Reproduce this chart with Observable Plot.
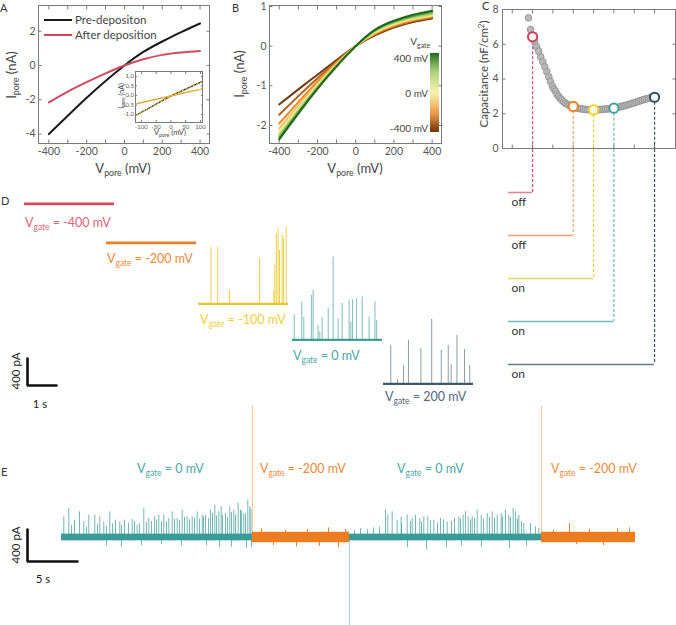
<!DOCTYPE html>
<html><head><meta charset="utf-8">
<script src="https://cdn.jsdelivr.net/npm/d3@7"></script>
<script src="https://cdn.jsdelivr.net/npm/@observablehq/plot@0.6"></script>
<style>
body{margin:0;background:#fff;}
#fig{position:relative;width:676px;height:625px;overflow:hidden;font-family:Lato,"Open Sans",sans-serif;background:#fff;}
.pl{position:absolute;}
.lb{position:absolute;white-space:nowrap;line-height:1;}
.lb sub{font-size:0.68em;vertical-align:-0.38em;line-height:0;}
.lb sup{font-size:0.68em;vertical-align:0.5em;line-height:0;}
</style></head><body><div id="fig"></div>
<script>
// ---------------- DATA ----------------
// Panel A
const vporeA = [-400, -300, -200, -100, 0, 100, 200, 300, 400];
const iPre   = [-4.0, -2.93, -1.88, -0.9, 0, 0.79, 1.4, 1.95, 2.45];
const iAfter = [-2.15, -1.52, -0.97, -0.46, 0, 0.36, 0.62, 0.76, 0.85];
const aSeries = ["Pre-depositon", "After deposition"];
const aXTicks = [-400, -200, 0, 200, 400];
const aXMinor = [-400, -300, -200, -100, 0, 100, 200, 300, 400];
const aYTicks = [-4, -2, 0, 2];
// Panel A inset
const insetV = [-118, 0, 105];
const insetPre = [-1.04, -0.02, 0.73];
const insetAfter = [-0.44, -0.02, 0.34];
const insetXTicks = [-100, -50, 0, 50, 100];
const insetYTicks = [-1, -0.5, 0, 0.5, 1];
// Panel B
const vporeB = [-400, -300, -200, -100, 0, 100, 200, 300, 400];
const gatesB = [-400, -300, -200, -100, 0, 100, 200, 300, 400];
const iB_m400 = [-1.47, -1.09, -0.72, -0.35, 0, 0.27, 0.47, 0.61, 0.70];
const iB_m300 = [-1.73, -1.26, -0.81, -0.39, 0, 0.29, 0.49, 0.63, 0.72];
const iB_m200 = [-1.95, -1.41, -0.89, -0.42, 0, 0.31, 0.51, 0.65, 0.74];
const iB_m100 = [-2.08, -1.50, -0.95, -0.45, 0, 0.33, 0.54, 0.67, 0.76];
const iB_0    = [-2.16, -1.56, -0.99, -0.47, 0, 0.35, 0.56, 0.69, 0.78];
const iB_100  = [-2.22, -1.61, -1.02, -0.48, 0, 0.37, 0.58, 0.71, 0.80];
const iB_200  = [-2.27, -1.64, -1.04, -0.49, 0, 0.38, 0.60, 0.74, 0.83];
const iB_300  = [-2.31, -1.67, -1.06, -0.50, 0, 0.40, 0.62, 0.76, 0.86];
const iB_400  = [-2.35, -1.70, -1.08, -0.51, 0, 0.41, 0.64, 0.79, 0.89];
const iBcurves = [iB_m400, iB_m300, iB_m200, iB_m100, iB_0, iB_100, iB_200, iB_300, iB_400];
const bYTicks = [-2, -1, 0, 1];
const cbLabels = [400, 0, -400];
// Panel C
const capV = [-420,-410,-400,-390,-380,-370,-360,-350,-340,-330,-320,-312,-303,-295,-287,-280,-272,-264,-256,-247,-238,-228,-219,-210,-200,-190,-180,-170,-160,-150,-140,-130,-120,-110,-100,-90,-80,-70,-60,-50,-40,-30,-20,-10,0,10,20,30,40,50,60,70,80,90,100,110,120,130,140,150,160,170,180,190,200];
const capC = [7.52,6.85,6.43,6.15,5.85,5.6,5.28,4.99,4.7,4.42,4.12,3.85,3.6,3.42,3.3,3.12,3.0,2.88,2.78,2.68,2.6,2.54,2.48,2.44,2.42,2.37,2.33,2.3,2.28,2.26,2.25,2.24,2.23,2.22,2.22,2.22,2.23,2.24,2.25,2.26,2.27,2.28,2.29,2.3,2.32,2.34,2.37,2.4,2.43,2.46,2.49,2.52,2.56,2.6,2.63,2.67,2.71,2.75,2.79,2.83,2.86,2.89,2.92,2.94,2.95];
const ringV = [-400, -200, -100, 0, 200];
const ringC = [6.43, 2.42, 2.22, 2.32, 2.95];
const ringState = ["off", "off", "on", "on", "on"];
const cYTicks = [0, 2, 4, 6, 8];
const cXTicks = [-500, -400, -300, -200, -100, 0, 100, 200];
// Panel D (time s, current pA)
const dGates = [-400, -200, -100, 0, 200];
const dDuration = 3.1;
const dSpikesM100 = [[0.43,845],[0.66,845],[1.07,207],[2.10,677],[2.59,200],[2.63,578],[2.68,1047],[2.74,1121],[2.79,800],[2.88,1022],[2.93,973],[3.02,1145]];
const dSpikes0 = [[0.06,370],[0.32,567],[0.39,345],[0.65,667],[0.71,740],[0.88,222],[0.94,123],[1.02,340],[1.23,470],[1.40,1234],[1.57,321],[1.71,544],[1.95,593],[2.01,267],[2.07,603],[2.21,618],[2.40,642],[2.64,345],[2.84,567],[2.90,296]];
const dSpikes200 = [[0.25,578],[0.48,70],[0.69,281],[0.86,652],[1.29,529],[1.66,963],[1.99,504],[2.23,578],[2.33,296],[2.53,726],[2.79,518],[2.97,281]];
const dNoise = [20, 20, 16, 16, 16];
const dScaleBar = {time: 1, current: 400};
// Panel E
const eSegStart = [0, 19.1, 28.8, 48.0];
const eSegEnd = [19.1, 28.8, 48.0, 57.4];
const eSegGate = [0, -200, 0, -200];
const eNoise = {"0": 42, "-200": 65};
const eTransT = [19.1, 28.8, 48.0];
const eTransAmp = [1640, -1100, 1640];
const eTransGate = [-200, 0, -200];
const eSpikesOn = [[0.23,258],[0.73,363],[1.0,150],[1.3,217],[1.8,321],[2.23,196],[2.5,130],[2.73,279],[3.33,279],[3.6,160],[3.83,258],[4.23,196],[4.5,140],[4.83,321],[5.1,170],[5.4,217],[5.83,196],[6.0,150],[6.3,217],[6.7,180],[7.07,225],[7.3,200],[7.57,154],[7.8,170],[8.23,363],[8.5,190],[8.73,238],[9.0,200],[9.3,258],[9.5,220],[9.73,279],[10.0,200],[10.23,279],[10.5,190],[10.73,238],[11.07,321],[11.3,230],[11.57,238],[11.8,210],[12.07,342],[12.3,250],[12.57,258],[12.8,220],[13.07,258],[13.3,240],[13.57,321],[13.8,230],[14.07,279],[14.2,260],[14.4,279],[14.7,240],[14.9,342],[15.1,300],[15.33,404],[15.5,270],[15.73,321],[15.97,384],[16.1,280],[16.4,300],[16.6,250],[16.83,384],[17.0,310],[17.23,342],[17.4,280],[17.67,425],[17.9,342],[18.0,330],[18.23,300],[18.4,290],[18.63,467],[18.83,384],[18.95,350],
  [4.5,-110],[6.0,-120],[8.0,-100],[10.0,-90],[12.0,-110],[14.5,-100],[15.8,-130],[17.0,-120],[18.5,-140],[19.0,-130],
  [29.3,90],[29.9,110],[30.6,100],[31.2,120],[31.8,130],[32.4,342],[32.63,279],[33.07,321],[33.57,217],[33.97,258],[34.0,180],[34.57,279],[34.9,200],[35.07,238],[35.4,279],[35.83,238],[36.0,190],[36.23,258],[36.63,258],[36.9,210],[37.23,217],[37.6,180],[37.9,238],[38.2,220],[38.57,196],[39.0,200],[39.3,238],[39.73,258],[39.9,230],[40.17,279],[40.4,321],[40.67,258],[40.9,220],[41.07,258],[41.3,240],[41.57,342],[41.97,279],[42.2,230],[42.57,300],[42.8,250],[43.07,321],[43.3,240],[43.57,279],[43.97,300],[44.1,260],[44.4,342],[44.73,279],[44.9,250],[45.17,363],[45.4,321],[45.6,230],[45.73,279],[46.0,200],[46.23,175],[46.9,175],[47.4,133],[47.73,113],
  [34.6,-130],[36.5,-150],[38.5,-130],[40.0,-110],[42.0,-120],[44.8,-140],[46.5,-110]];
const eSpikesOff = [[20.0,110],[21.2,-100],[22.4,90],[23.5,-120],[24.6,100],[25.8,-110],[26.7,120],[27.7,-130],[28.4,100],[49.2,90],[50.8,175],[51.5,-90],[52.8,100],[54.2,-100],[55.6,110],[56.8,120]];
const eScaleBar = {time: 5, current: 400};

// ---------------- STYLE ----------------
const FONT = 'Lato, "Open Sans", sans-serif';
const baseStyle = {background: "transparent", overflow: "visible", fontFamily: FONT, fontSize: "10.5px", color: "#555"};
const FRAME = "#7a7a7a";
const gateColor = {"-400": "#d4475d", "-200": "#ef7d1f", "-100": "#eac52a", "0": "#3a9c98", "200": "#3b5466"};
const gateLabelColor = {"-400": "#e06478", "-200": "#f08a3a", "-100": "#f0cf3c", "0": "#4aa8a5", "200": "#55687a"};
const spikeColor = {"-100": "#ecd04a", "0": "#7fbcb9", "200": "#8c9ca8"};
const connColor = {"-400": "#e0809a", "-200": "#eda070", "-100": "#f0d860", "0": "#7ab8b8", "200": "#667c88"};
const dashColor = {"-400": "#d4506a", "-200": "#f0a060", "-100": "#f0d040", "0": "#70b4b4", "200": "#3a5060"};
const ringColor = {"-400": "#d04058", "-200": "#f08020", "-100": "#f5d020", "0": "#40a0a0", "200": "#2f4f60"};
const bColorScale = {type: "linear", domain: [-400, -200, 0, 200, 400], range: ["#6b3a0e", "#ef8a2a", "#f5ee96", "#9fcb66", "#1c6a1c"], interpolate: "rgb"};

const fig = document.getElementById("fig");
function place(el, left, top) { el.classList.add("pl"); el.style.position = "absolute"; el.style.left = left + "px"; el.style.top = top + "px"; fig.appendChild(el); }
function label(html, x, y, {size = 12, color = "#444", anchor = "start", rotate = false} = {}) {
  const d = document.createElement("div");
  d.className = "lb"; d.innerHTML = html;
  d.style.left = x + "px"; d.style.top = y + "px"; d.style.fontSize = size + "px"; d.style.color = color;
  const tx = anchor === "middle" ? "-50%" : anchor === "end" ? "-100%" : "0";
  d.style.transform = `translate(${tx},-50%)` + (rotate ? " rotate(-90deg)" : "");
  fig.appendChild(d);
}
function frameTicks(xt, yt, len = 3.5) {
  const o = {tickSize: -len, tickFormat: () => "", stroke: FRAME};
  return [
    Plot.axisX({...o, anchor: "bottom", ticks: xt}),
    Plot.axisX({...o, anchor: "top", ticks: xt}),
    Plot.axisY({...o, anchor: "left", ticks: yt}),
    Plot.axisY({...o, anchor: "right", ticks: yt})
  ];
}

// ---------------- PANEL A ----------------
const aRows = [];
aSeries.forEach((s, k) => vporeA.forEach((v, j) => aRows.push({s, v, i: (k === 0 ? iPre : iAfter)[j]})));
place(Plot.plot({
  width: 212, height: 180, marginLeft: 38, marginRight: 3, marginTop: 5, marginBottom: 37,
  x: {domain: [-455, 450], label: null}, y: {domain: [-4.55, 3.5], label: null},
  style: baseStyle,
  marks: [
    Plot.frame({stroke: FRAME}),
    ...frameTicks(aXMinor, aYTicks),
    Plot.axisX({ticks: aXTicks, tickSize: 0, tickPadding: 4, tickFormat: d => String(d), fill: "#555"}),
    Plot.axisY({ticks: aYTicks, tickSize: 0, tickPadding: 3, tickFormat: d => String(d), fill: "#555"}),
    Plot.line(aRows, {x: "v", y: "i", z: "s", stroke: d => d.s === aSeries[0] ? "#1a1a1a" : "#d04a5e", strokeWidth: 2, curve: "natural"})
  ]
}), 0, 0);

// inset
const insetRows = [];
insetV.forEach((v, j) => { insetRows.push({s: "pre", v, i: insetPre[j]}); insetRows.push({s: "after", v, i: insetAfter[j]}); });
place(Plot.plot({
  width: 86, height: 70, marginLeft: 17, marginRight: 2, marginTop: 3, marginBottom: 16,
  x: {domain: [-120, 107], label: null}, y: {domain: [-1.42, 1.26], label: null},
  style: {...baseStyle, fontSize: "6px"},
  marks: [
    Plot.frame({stroke: FRAME, fill: "white"}),
    ...frameTicks(insetXTicks, insetYTicks, 2),
    Plot.axisX({ticks: insetXTicks, tickSize: 0, tickPadding: 2, tickFormat: d => String(d), fill: "#555"}),
    Plot.axisY({ticks: insetYTicks, tickSize: 0, tickPadding: 1.5, tickFormat: d => d.toFixed(1), fill: "#555"}),
    Plot.line(insetRows, {x: "v", y: "i", z: "s", stroke: d => d.s === "pre" ? "#1a1a1a" : "#e8823a", strokeWidth: 1.2}),
    Plot.line(insetRows, {x: "v", y: "i", z: "s", stroke: "#e8c830", strokeWidth: 1, strokeDasharray: "2,2"})
  ]
}), 118, 68);

// ---------------- PANEL B ----------------
const bRows = [];
gatesB.forEach((g, k) => vporeB.forEach((v, j) => bRows.push({g, v, i: iBcurves[k][j]})));
place(Plot.plot({
  width: 214, height: 180, marginLeft: 39, marginRight: 3, marginTop: 5, marginBottom: 37,
  x: {domain: [-451, 449], label: null}, y: {domain: [-2.455, 1.025], label: null},
  color: bColorScale,
  style: baseStyle,
  marks: [
    Plot.frame({stroke: FRAME}),
    ...frameTicks(aXMinor, bYTicks),
    Plot.axisX({ticks: aXTicks, tickSize: 0, tickPadding: 4, tickFormat: d => String(d), fill: "#555"}),
    Plot.axisY({ticks: bYTicks, tickSize: 0, tickPadding: 3, tickFormat: d => String(d), fill: "#555"}),
    Plot.line(bRows, {x: "v", y: "i", z: "g", stroke: "g", strokeWidth: 2, curve: "natural"})
  ]
}), 230, 0);

// colorbar
const cbStep = 10;
const cbStops = d3.range(gatesB[0], gatesB[gatesB.length - 1], cbStep);
place(Plot.plot({
  width: 9, height: 79, margin: 0,
  x: {domain: [0, 1], axis: null}, y: {domain: [-400, 400], axis: null},
  color: bColorScale, style: baseStyle,
  marks: [Plot.rect(cbStops, {x1: 0, x2: 1, y1: d => d, y2: d => d + cbStep + 0.5, fill: d => d + cbStep / 2})]
}), 430, 53);

// ---------------- PANEL C ----------------
const capRows = capV.map((v, j) => ({v, c: capC[j]}));
const rings = ringV.map((v, j) => ({v, c: ringC[j], state: ringState[j], row: "r" + j, key: String(v)}));
const cXDomain = [-548, 303];
place(Plot.plot({
  width: 196, height: 150, marginLeft: 22, marginRight: 1, marginTop: 9, marginBottom: 2,
  x: {domain: cXDomain, label: null}, y: {domain: [0, 8], label: null},
  style: baseStyle,
  marks: [
    Plot.frame({stroke: FRAME}),
    ...frameTicks(cXTicks, cYTicks),
    Plot.axisY({ticks: cYTicks, tickSize: 0, tickPadding: 4, tickFormat: d => String(d), fill: "#555"}),
    Plot.ruleX(rings, {x: "v", y1: "c", y2: 0, stroke: d => dashColor[d.key], strokeWidth: 1.2, strokeDasharray: "3,2"}),
    Plot.dot(capRows, {x: "v", y: "c", r: 3.4, fill: "#b8b8b8", stroke: "#8a8a8a", strokeWidth: 0.7}),
    Plot.dot(rings, {x: "v", y: "c", r: 4.6, fill: "white", stroke: d => ringColor[d.key], strokeWidth: 2})
  ]
}), 480, 0);

// connectors
const connLeft = 28;
const connXDomain = [cXDomain[0] + (connLeft - 22) * (cXDomain[1] - cXDomain[0]) / 173, cXDomain[1]];
place(Plot.plot({
  width: 196, height: 226, marginLeft: connLeft, marginRight: 1, marginTop: 0, marginBottom: 10,
  x: {domain: connXDomain, axis: null}, y: {type: "point", domain: ["axis", ...rings.map(d => d.row)], padding: 0, axis: null},
  style: {...baseStyle, fontSize: "12px", color: "#333"},
  marks: [
    Plot.ruleX(rings, {x: "v", y1: () => "axis", y2: "row", stroke: d => dashColor[d.key], strokeWidth: 1.2, strokeDasharray: "3,2"}),
    Plot.ruleY(rings, {y: "row", x1: connXDomain[0], x2: "v", stroke: d => connColor[d.key], strokeWidth: 1.5}),
    Plot.text(rings, {x: connXDomain[0], y: "row", text: "state", textAnchor: "start", dx: 3, dy: 10, fill: "#333"})
  ]
}), 480, 148);

// ---------------- PANEL D ----------------
function dTrace(gate, spikes, left, baselineY) {
  const k = String(gate);
  const j = dGates.indexOf(gate);
  const yDom = [-150, 1330];
  const marks = [];
  if (spikes) marks.push(Plot.ruleX(spikes, {x: d => d[0], y1: 0, y2: d => d[1], stroke: spikeColor[k], strokeWidth: 1}));
  marks.push(Plot.rect([dNoise[j]], {x1: 0, x2: dDuration, y1: d => -d, y2: d => d, fill: gateColor[k]}));
  const h = 100;
  place(Plot.plot({
    width: 92, height: h, marginLeft: 1, marginRight: 1, marginTop: 0, marginBottom: 0,
    x: {domain: [0, dDuration], axis: null}, y: {domain: yDom, axis: null},
    style: baseStyle, marks
  }), left - 1, baselineY - h * yDom[1] / (yDom[1] - yDom[0]));
}
dTrace(-400, null, 24, 204);
dTrace(-200, null, 106, 243);
dTrace(-100, dSpikesM100, 198, 304);
dTrace(0, dSpikes0, 292, 340);
dTrace(200, dSpikes200, 383, 384);

function scaleBar(bar, cornerX, cornerY, pxPerT, pxPerI) {
  const pad = 4;
  const W = bar.time * pxPerT + 2 * pad, H = bar.current * pxPerI + 2 * pad;
  place(Plot.plot({
    width: W, height: H, margin: 0,
    x: {domain: [-pad / pxPerT, (W - pad) / pxPerT], axis: null},
    y: {domain: [-pad / pxPerI, (H - pad) / pxPerI], axis: null},
    style: baseStyle,
    marks: [Plot.line([{t: 0, i: bar.current}, {t: 0, i: 0}, {t: bar.time, i: 0}], {x: "t", y: "i", stroke: "#111", strokeWidth: 2.6, strokeLinejoin: "miter"})]
  }), cornerX - pad, cornerY - (H - pad));
}
scaleBar(dScaleBar, 27, 385, 29, 27 / 400);

// ---------------- PANEL E ----------------
const eSegs = eSegStart.map((s, j) => ({start: s, end: eSegEnd[j], gate: eSegGate[j]}));
const eTrans = eTransT.map((t, j) => ({t, amp: eTransAmp[j], gate: eTransGate[j]}));
place(Plot.plot({
  width: 590, height: 225, marginLeft: 6, marginRight: 10, marginTop: 0, marginBottom: 0,
  x: {domain: [0, 57.4], axis: null}, y: {domain: [-1100, 1712], axis: null},
  style: baseStyle,
  marks: [
    Plot.ruleX(eTrans, {x: "t", y1: 0, y2: "amp", stroke: d => gateColor[String(d.gate)], strokeOpacity: 0.4, strokeWidth: 1.2}),
    Plot.rect(eSegs, {x1: "start", x2: "end", y1: d => -eNoise[String(d.gate)], y2: d => eNoise[String(d.gate)], fill: d => gateColor[String(d.gate)]}),
    Plot.ruleX(eSpikesOn, {x: d => d[0], y1: 0, y2: d => d[1], stroke: gateColor["0"], strokeOpacity: 0.8, strokeWidth: 0.9}),
    Plot.ruleX(eSpikesOff, {x: d => d[0], y1: 0, y2: d => d[1], stroke: gateColor["-200"], strokeWidth: 1})
  ]
}), 55, 400);
scaleBar(eScaleBar, 27, 561, 10, 32 / 400);

// ---------------- TEXT ----------------
label("A", 0, 7, {size: 11, color: "#333"});
label("B", 232, 7, {size: 11, color: "#333"});
label("C", 482, 5, {size: 11, color: "#333"});
label("D", 1, 200, {size: 11, color: "#333"});
label("E", 1, 471, {size: 11, color: "#333"});

label("I<sub>pore</sub> (nA)", 11, 75, {size: 13, anchor: "middle", rotate: true});
label("V<sub>pore</sub> (mV)", 123, 168, {size: 13, anchor: "middle"});
label("I<sub>pore</sub> (nA)", 239, 74, {size: 13, anchor: "middle", rotate: true});
label("V<sub>pore</sub> (mV)", 355, 168, {size: 13, anchor: "middle"});
label("Capacitance (nF/cm<sup>2</sup>)", 484, 74, {size: 11.5, anchor: "middle", rotate: true});

// legend A
aSeries.forEach((s, k) => {
  const ln = document.createElement("div");
  ln.style.cssText = `position:absolute;left:44px;top:${19 + 15 * k}px;width:28px;height:2px;background:${k === 0 ? "#1a1a1a" : "#d04a5e"}`;
  fig.appendChild(ln);
  label(s, 75, 20 + 15 * k, {size: 11.5, color: "#444"});
});
label("I<sub>pore</sub> (nA)", 121, 96, {size: 7, anchor: "middle", rotate: true});
label("V<sub>pore</sub> (mV)", 170, 133, {size: 7.5, anchor: "middle"});

// colorbar labels
label("V<sub>gate</sub>", 430, 41, {size: 10, anchor: "end"});
cbLabels.forEach((v, j) => label(v + " mV", 428, 58 + 35 * j, {size: 10, anchor: "end"}));

// D labels
const dLabelPos = [[25, 223], [107, 259], [200, 320], [293, 356], [385, 397]];
dGates.forEach((g, j) => label(`V<sub>gate</sub> = ${g} mV`, dLabelPos[j][0], dLabelPos[j][1], {size: 12.5, color: gateLabelColor[String(g)]}));
label(dScaleBar.current + " pA", 16, 371, {size: 11.5, color: "#222", anchor: "middle", rotate: true});
label(dScaleBar.time + " s", 40, 404, {size: 11.5, color: "#222", anchor: "middle"});

// E labels
const eLabelX = [137, 260, 397, 551];
eSegGate.forEach((g, j) => label(`V<sub>gate</sub> = ${g} mV`, eLabelX[j], 469, {size: 12.5, color: gateLabelColor[String(g)]}));
label(eScaleBar.current + " pA", 16, 545, {size: 11.5, color: "#222", anchor: "middle", rotate: true});
label(eScaleBar.time + " s", 43, 579, {size: 11.5, color: "#222", anchor: "middle"});
</script></body></html>
